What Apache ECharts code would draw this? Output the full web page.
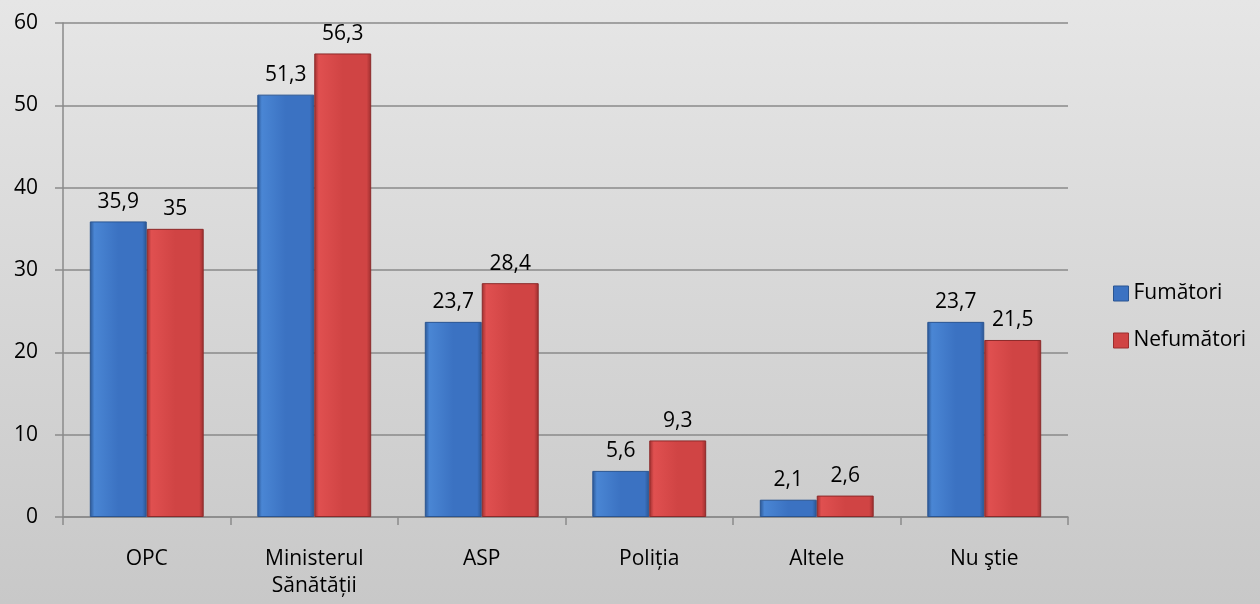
<!DOCTYPE html>
<html><head><meta charset="utf-8">
<script src="https://cdn.jsdelivr.net/npm/echarts@6/dist/echarts.min.js"></script>
<style>html,body{margin:0;padding:0;}#c{width:1260px;height:604px;}</style>
</head><body><div id="c"></div>
<script>
const categories = ['OPC', 'Ministerul\nSănătății', 'ASP', 'Poliția', 'Altele', 'Nu ştie'];
const fumatori = [35.9, 51.3, 23.7, 5.6, 2.1, 23.7];
const nefumatori = [35, 56.3, 28.4, 9.3, 2.6, 21.5];
const seriesNames = ['Fumători', 'Nefumători'];

const font = '"Open Sans", "Noto Sans", sans-serif';
function grad(light, mid, dark) {
  return new echarts.graphic.LinearGradient(0, 0, 1, 0, [
    {offset: 0, color: dark}, {offset: 0.08, color: light}, {offset: 0.5, color: mid},
    {offset: 0.92, color: mid}, {offset: 1, color: dark}
  ]);
}
const blueFill = grad('#4a86d4', '#3b72c2', '#2a5592');
const redFill = grad('#e05050', '#d04444', '#9c2e2e');
const lbl = {show: true, position: 'top', distance: 9, color: '#000', fontSize: 21, fontFamily: font,
  formatter: p => String(p.value).replace('.', ',')};

const chart = echarts.init(document.getElementById('c'));
chart.setOption({
  backgroundColor: new echarts.graphic.LinearGradient(0, 0, 0, 1, [
    {offset: 0, color: '#e6e6e6'}, {offset: 1, color: '#c8c8c8'}]),
  animation: false,
  grid: {left: 63, right: 192, top: 23, bottom: 87},
  legend: {
    orient: 'vertical', left: 1108, top: 278, itemGap: 26, itemWidth: 15, itemHeight: 15,
    icon: 'rect', textStyle: {fontSize: 21, fontFamily: font, color: '#000'},
    data: [{name: seriesNames[0], itemStyle: {color: '#3b72c2', borderColor: '#2a5592', borderWidth: 1}},
           {name: seriesNames[1], itemStyle: {color: '#d04444', borderColor: '#9c2e2e', borderWidth: 1}}]
  },
  xAxis: {
    type: 'category', data: categories,
    axisLine: {lineStyle: {color: '#8a8a8a', width: 1.5}},
    axisTick: {show: true, length: 8, lineStyle: {color: '#8a8a8a', width: 1.5}},
    axisLabel: {color: '#000', fontSize: 21, fontFamily: font, margin: 29, lineHeight: 27}
  },
  yAxis: {
    type: 'value', min: 0, max: 60, interval: 10,
    axisLine: {show: true, lineStyle: {color: '#8a8a8a', width: 1.5}},
    axisTick: {show: true, length: 8, lineStyle: {color: '#8a8a8a', width: 1.5}},
    axisLabel: {color: '#000', fontSize: 21, fontFamily: font, margin: 25},
    splitLine: {lineStyle: {color: '#8a8a8a', width: 1.5}}
  },
  series: [
    {name: seriesNames[0], type: 'bar', data: fumatori, barGap: '0%', barCategoryGap: '32%',
     itemStyle: {color: blueFill, borderColor: '#2a5592', borderWidth: 1}, label: lbl},
    {name: seriesNames[1], type: 'bar', data: nefumatori,
     itemStyle: {color: redFill, borderColor: '#8c2a2a', borderWidth: 1}, label: lbl}
  ]
});
</script></body></html>
